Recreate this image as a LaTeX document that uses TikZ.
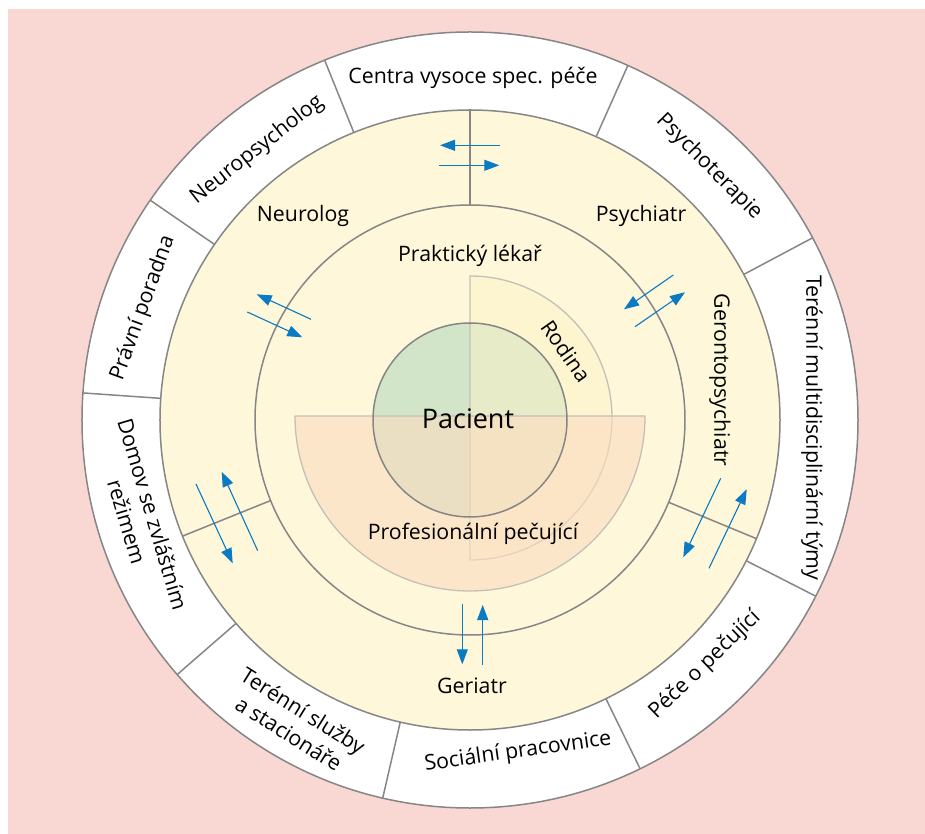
\documentclass[tikz,border=0pt]{standalone}
\usepackage{fontspec}
\setmainfont{Open Sans}
\usepackage{tikz}
\usetikzlibrary{arrows.meta}
\definecolor{bgpink}{RGB}{249,216,212}
\definecolor{ringgray}{RGB}{134,134,134}
\definecolor{softgray}{RGB}{196,192,184}
\definecolor{ringyellow}{RGB}{254,247,218}
\definecolor{rodyellow}{RGB}{253,242,200}
\definecolor{peach}{RGB}{252,220,192}
\definecolor{pacgreen}{RGB}{211,229,200}
\definecolor{flowblue}{RGB}{10,122,194}

\begin{document}
\begin{tikzpicture}[x=1pt, y=1pt,
		ring/.style={draw=ringgray, line width=1.5pt},
		flow/.style={draw=flowblue, line width=1.1pt, -{Triangle[length=15pt,width=11pt]}},
		lbl/.style={font=\fontsize{21.3}{27}\selectfont, inner sep=0pt}]
				\useasboundingbox (-470,-414) rectangle (455,420);
				\fill[bgpink] (-462,-414) rectangle (455,411);
				
				% rings
				\filldraw[fill=white, ring] (0,0) circle (388);
				\filldraw[fill=ringyellow, ring] (0,0) circle (310);
				\draw[ring] (0,0) circle (215);
				
				\draw[ring] (28:310) -- (28:388);
				\draw[ring] (66:310) -- (66:388);
				\draw[ring] (112:310) -- (112:388);
				\draw[ring] (145.5:310) -- (145.5:388);
				\draw[ring] (176:310) -- (176:388);
				\draw[ring] (221:310) -- (221:388);
				\draw[ring] (257:310) -- (257:388);
				\draw[ring] (296:310) -- (296:388);
				\draw[ring] (333:310) -- (333:388);
				
				\draw[ring] (90:215) -- (90:310);
				\draw[ring] (202:215) -- (202:310);
				\draw[ring] (337.5:215) -- (337.5:310);
				
				% centre
				\fill[pacgreen] (0,0) circle (97);
				\filldraw[fill=rodyellow, fill opacity=0.5, draw=softgray, line width=1.3pt] (0,144) arc (90:-90:142) -- cycle;
				\filldraw[fill=peach, fill opacity=0.6, draw=softgray, line width=1.3pt] (-175,4) arc (180:360:175) -- cycle;
				\draw[ring] (0,0) circle (97);
				
				% outer ring labels
				\node[lbl] (centra) at (3,342) {Centra vysoce spec. péče};
				\node[lbl, rotate=38] (neuropsy) at (-213,270) {Neuropsycholog};
				\node[lbl, rotate=70] (pravni) at (-327,112) {Právní poradna};
				\node[lbl, rotate=-73.5, align=center] (domov) at (-330,-98) {Domov se zvláštním\\režimem};
				\node[lbl, rotate=-32, align=center] (sluzby) at (-174,-302) {Terénní služby\\a stacionáře};
				\node[lbl, rotate=8] (socialni) at (48,-332) {Sociální pracovnice};
				\node[lbl, rotate=44] (pece) at (235,-245) {Péče o pečující};
				\node[lbl, rotate=-90] (tymy) at (342,-8) {Terénní multidisciplinární týmy};
				\node[lbl, rotate=-45] (psychoter) at (239,253) {Psychoterapie};
				
				% inner labels
				\node[lbl] (neurolog) at (-167,204) {Neurolog};
				\node[lbl] (psychiatr) at (171,204) {Psychiatr};
				\node[lbl] (prakticky) at (0,164) {Praktický lékař};
				\node[lbl, rotate=-90] (geronto) at (250,40) {Gerontopsychiatr};
				\node[lbl, rotate=-55] (rodina) at (96,69) {Rodina};
				\node[font=\fontsize{27}{32}\selectfont, inner sep=0pt] (pacient) at (-2,1) {Pacient};
				\node[lbl] (profes) at (3,-114) {Profesionální pečující};
				\node[lbl] (geriatr) at (2,-266) {Geriatr};
				
				% arrows
				\coordinate (t1) at (30,274.7);
				\coordinate (t2) at (-30,274.7);
				\coordinate (t3) at (-31,254.7);
				\coordinate (t4) at (29.3,254.7);
				\coordinate (ul1) at (-159,100.7);
				\coordinate (ul2) at (-213.3,125.7);
				\coordinate (ul3) at (-222.7,108);
				\coordinate (ul4) at (-167.7,82.7);
				\coordinate (ll1) at (-274,-64);
				\coordinate (ll2) at (-237.3,-143.3);
				\coordinate (ll3) at (-212.3,-130.7);
				\coordinate (ll4) at (-248.3,-51.7);
				\coordinate (ur1) at (203.3,145);
				\coordinate (ur2) at (154,110.7);
				\coordinate (ur3) at (165,93.3);
				\coordinate (ur4) at (215,127.7);
				\coordinate (lr1) at (250.7,-58.3);
				\coordinate (lr2) at (213.3,-137.3);
				\coordinate (lr3) at (239,-148.3);
				\coordinate (lr4) at (276.7,-69.3);
				\coordinate (b1) at (-7.7,-184);
				\coordinate (b2) at (-7.7,-244.3);
				\coordinate (b3) at (12.7,-245);
				\coordinate (b4) at (12.7,-185);
				
				\draw[flow] (t1) -- (t2);
				\draw[flow] (t3) -- (t4);
				\draw[flow] (ul1) -- (ul2);
				\draw[flow] (ul3) -- (ul4);
				\draw[flow] (ll1) -- (ll2);
				\draw[flow] (ll3) -- (ll4);
				\draw[flow] (ur1) -- (ur2);
				\draw[flow] (ur3) -- (ur4);
				\draw[flow] (lr1) -- (lr2);
				\draw[flow] (lr3) -- (lr4);
				\draw[flow] (b1) -- (b2);
				\draw[flow] (b3) -- (b4);
			\end{tikzpicture}
\end{document}
